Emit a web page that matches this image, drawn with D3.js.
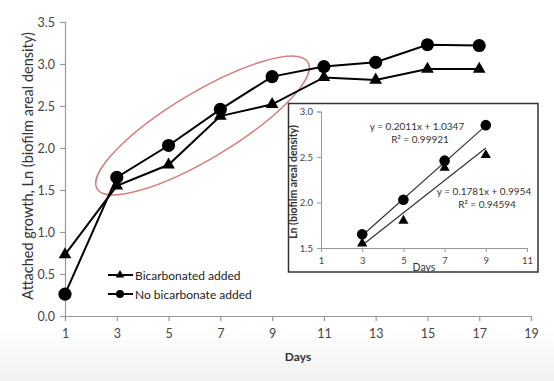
<!DOCTYPE html>
<html><head><meta charset="utf-8">
<script src="https://cdn.jsdelivr.net/npm/d3@7"></script>
<style>body{margin:0;background:#fff}svg{display:block}</style>
</head><body>
<svg id="c" width="554" height="381"></svg>
<script>
const days = [1,3,5,7,9,11,13,15,17];
const bicarb = [0.73,1.55,1.80,2.38,2.52,2.84,2.81,2.94,2.94];
const noBicarb = [0.26,1.65,2.03,2.46,2.85,2.97,3.02,3.23,3.22];
const xTicks = [1,3,5,7,9,11,13,15,17,19];
const yTicks = [0,0.5,1,1.5,2,2.5,3,3.5];
const insetDays = [3,5,7,9];
const insetBicarb = [1.55,1.80,2.38,2.52];
const insetNoBicarb = [1.65,2.03,2.46,2.85];
const insetXTicks = [1,3,5,7,9,11];
const insetYTicks = [1.5,2.0,2.5,3.0];
const fitNo = {slope:0.2011, intercept:1.0347, eq:"y = 0.2011x + 1.0347", r2:"R² = 0.99921"};
const fitBi = {slope:0.1781, intercept:0.9954, eq:"y = 0.1781x + 0.9954", r2:"R² = 0.94594"};
const seriesNames = ["Bicarbonated added","No bicarbonate added"];

const svg = d3.select("#c");
const F = "Lato, 'Open Sans', sans-serif";
const defs = svg.append("defs");
const g = defs.append("linearGradient").attr("id","bg").attr("x1",0).attr("x2",0).attr("y1",0).attr("y2",1);
g.append("stop").attr("offset","0").attr("stop-color","#ffffff");
g.append("stop").attr("offset","1").attr("stop-color","#f0f0f0");
svg.append("rect").attr("x",0).attr("y",330).attr("width",554).attr("height",51).attr("fill","url(#bg)");

const x = d3.scaleLinear().domain([1,19]).range([65,531]);
const y = d3.scaleLinear().domain([0,3.5]).range([316,22]);

const xa = svg.append("g").attr("transform","translate(0,316)")
  .call(d3.axisBottom(x).tickValues(xTicks).tickFormat(d3.format("d")).tickSize(5).tickPadding(8));
const ya = svg.append("g").attr("transform","translate(65,0)")
  .call(d3.axisLeft(y).tickValues(yTicks).tickFormat(d3.format(".1f")).tickSize(5).tickPadding(5));
[xa,ya].forEach(a=>{
  a.select(".domain").attr("stroke","#999").attr("stroke-width",1.2);
  a.selectAll(".tick line").attr("stroke","#999").attr("stroke-width",1.2);
  a.selectAll(".tick text").attr("font-family",F).attr("font-size",12.5).attr("fill","#444");
});

svg.append("text").attr("x",298).attr("y",361).attr("text-anchor","middle")
  .attr("font-family",F).attr("font-weight","bold").attr("font-size",12).attr("fill","#333").text("Days");
svg.append("text").attr("transform","translate(33,166) rotate(-90)").attr("text-anchor","middle")
  .attr("font-family",F).attr("font-size",14.5).attr("fill","#333").text("Attached growth, Ln (biofilm areal density)");

svg.append("ellipse").attr("cx",202.5).attr("cy",125.5).attr("rx",123).attr("ry",33)
  .attr("transform","rotate(-31 202.5 125.5)").attr("fill","none").attr("stroke","#d47f7f").attr("stroke-width",1.5);

const line = d3.line();
function drawSeries(sel, xs, ys, xsc, ysc, sym, size, lw){
  const pts = xs.map((d,i)=>[xsc(d), ysc(ys[i])]);
  if (lw) sel.append("path").attr("d",line(pts)).attr("fill","none").attr("stroke","#000").attr("stroke-width",lw);
  sel.selectAll(null).data(pts).enter().append("path")
    .attr("transform",d=>`translate(${d[0]},${d[1]})`)
    .attr("d",d3.symbol().type(sym).size(size)).attr("fill","#000");
}
const main = svg.append("g");
drawSeries(main, days, bicarb, x, y, d3.symbolTriangle, 70, 2);
drawSeries(main, days, noBicarb, x, y, d3.symbolCircle, 135, 2);

const lg = svg.append("g");
[[275, d3.symbolTriangle, 32],[294, d3.symbolCircle, 50]].forEach((L,i)=>{
  lg.append("line").attr("x1",108).attr("x2",133).attr("y1",L[0]).attr("y2",L[0]).attr("stroke","#000").attr("stroke-width",2);
  lg.append("path").attr("transform",`translate(120,${L[0]})`).attr("d",d3.symbol().type(L[1]).size(L[2]));
  lg.append("text").attr("x",135).attr("y",L[0]+4.5).attr("font-family",F).attr("font-size",12).attr("fill","#222").text(seriesNames[i]);
});

const ins = svg.append("g");
ins.append("rect").attr("x",288.5).attr("y",103.5).attr("width",249.5).attr("height",168.5)
  .attr("fill","#fff").attr("stroke","#333").attr("stroke-width",1.5);
const ix = d3.scaleLinear().domain([1,11]).range([321,527]);
const iy = d3.scaleLinear().domain([1.5,3.0]).range([248,111.5]);
const ixa = ins.append("g").attr("transform","translate(0,248)")
  .call(d3.axisBottom(ix).tickValues(insetXTicks).tickFormat(d3.format("d")).tickSize(4).tickPadding(5));
const iya = ins.append("g").attr("transform","translate(321,0)")
  .call(d3.axisLeft(iy).tickValues(insetYTicks).tickFormat(d3.format(".1f")).tickSize(4).tickPadding(4));
[ixa,iya].forEach(a=>{
  a.select(".domain").attr("stroke","#999");
  a.selectAll(".tick line").attr("stroke","#999");
  a.selectAll(".tick text").attr("font-family",F).attr("font-size",9.5).attr("fill","#444");
});
ins.append("text").attr("x",424).attr("y",271).attr("text-anchor","middle")
  .attr("font-family",F).attr("font-size",10.5).attr("fill","#333").text("Days");
ins.append("text").attr("transform","translate(297,182) rotate(-90)").attr("text-anchor","middle")
  .attr("font-family",F).attr("font-weight","bold").attr("font-size",10.5).attr("fill","#333").text("Ln (biofilm areal density)");
[fitNo, fitBi].forEach(f=>{
  ins.append("line").attr("x1",ix(3)).attr("x2",ix(9))
    .attr("y1",iy(f.slope*3+f.intercept)).attr("y2",iy(f.slope*9+f.intercept))
    .attr("stroke","#333").attr("stroke-width",1.2);
});
drawSeries(ins, insetDays, insetBicarb, ix, iy, d3.symbolTriangle, 45, 0);
drawSeries(ins, insetDays, insetNoBicarb, ix, iy, d3.symbolCircle, 88, 0);
[[fitNo, 417, 130],[fitBi, 484, 195]].forEach(a=>{
  ins.append("text").attr("x",a[1]).attr("y",a[2]).attr("text-anchor","middle")
    .attr("font-family",F).attr("font-size",10).attr("fill","#333").text(a[0].eq);
  ins.append("text").attr("x",a[1]+3).attr("y",a[2]+13).attr("text-anchor","middle")
    .attr("font-family",F).attr("font-size",10).attr("fill","#333").text(a[0].r2);
});
</script>
</body></html>
